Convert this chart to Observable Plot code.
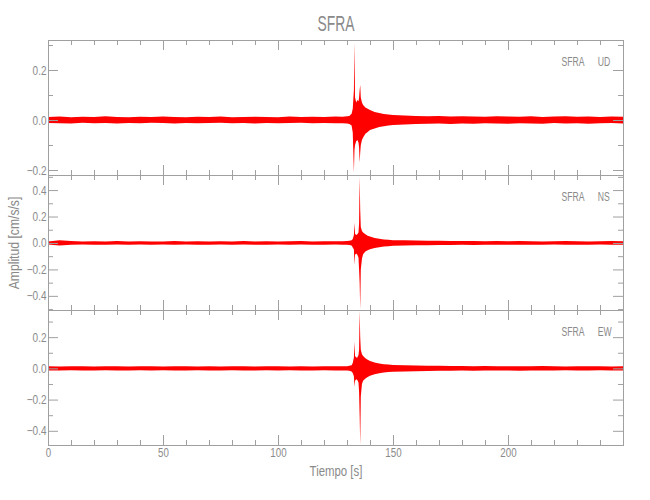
<!DOCTYPE html>
<html>
<head>
<meta charset="utf-8">
<script src="https://cdn.jsdelivr.net/npm/d3@7"></script>
<script src="https://cdn.jsdelivr.net/npm/@observablehq/plot@0.6"></script>
<style>
  html, body { margin: 0; padding: 0; background: #fff; }
  #chart { position: relative; width: 650px; height: 500px; overflow: hidden; }
  #chart svg { position: absolute; left: 0; overflow: visible; }
</style>
</head>
<body>
<div id="chart"></div>
<script>
// ---- data ----
const station = "SFRA";
const components = ["UD", "NS", "EW"];
const title = "SFRA";
const yLabel = "Amplitud [cm/s/s]";
const xLabel = "Tiempo [s]";

// time (s) of each envelope sample
const time = [
  0,5,10,15,20,25,30,35,40,45,50,55,60,65,70,75,80,85,90,95,100,105,110,115,120,125,
  128,130,131,132,132.5,133,133.25,133.5,134,134.5,135,135.25,135.5,135.75,136,136.5,137,138,139,140,142,144,146,148,150,
  155,160,165,170,175,180,185,190,195,200,205,210,215,220,225,230,235,240,245,250
];

// upper / lower envelope of each trace (cm/s/s)
const udHi = [
  0.012,0.014,0.011,0.013,0.012,0.015,0.012,0.011,0.013,0.012,0.014,0.012,0.011,0.013,0.012,0.014,0.011,0.012,0.013,0.012,0.011,0.014,0.012,0.013,0.012,0.014,
  0.013,0.015,0.016,0.025,0.045,0.12,0.31,0.09,0.07,0.08,0.075,0.09,0.12,0.14,0.09,0.07,0.06,0.05,0.045,0.04,0.032,0.028,0.024,0.022,0.02,
  0.018,0.016,0.015,0.016,0.014,0.015,0.014,0.013,0.015,0.014,0.013,0.015,0.012,0.014,0.015,0.013,0.014,0.012,0.014,0.013
];
const udLo = [
  -0.012,-0.013,-0.014,-0.011,-0.013,-0.012,-0.014,-0.012,-0.013,-0.011,-0.012,-0.014,-0.012,-0.013,-0.012,-0.011,-0.013,-0.012,-0.014,-0.012,-0.013,-0.012,-0.011,-0.013,-0.012,-0.013,
  -0.013,-0.014,-0.016,-0.022,-0.05,-0.21,-0.12,-0.1,-0.085,-0.08,-0.09,-0.11,-0.17,-0.13,-0.1,-0.08,-0.07,-0.055,-0.048,-0.04,-0.034,-0.028,-0.025,-0.022,-0.02,
  -0.018,-0.016,-0.015,-0.014,-0.016,-0.014,-0.015,-0.013,-0.014,-0.015,-0.013,-0.014,-0.015,-0.012,-0.014,-0.013,-0.015,-0.013,-0.012,-0.014
];
const nsHi = [
  0.012,0.02,0.014,0.012,0.013,0.012,0.014,0.012,0.013,0.012,0.012,0.014,0.012,0.013,0.012,0.013,0.012,0.014,0.012,0.013,0.012,0.013,0.014,0.012,0.013,0.013,
  0.013,0.014,0.016,0.02,0.03,0.06,0.154,0.07,0.06,0.065,0.08,0.15,0.5,0.25,0.12,0.09,0.08,0.065,0.055,0.048,0.038,0.032,0.027,0.024,0.021,
  0.02,0.018,0.017,0.016,0.015,0.014,0.015,0.013,0.014,0.013,0.014,0.013,0.012,0.013,0.014,0.013,0.012,0.013,0.014,0.013
];
const nsLo = [
  -0.012,-0.02,-0.013,-0.012,-0.013,-0.014,-0.012,-0.013,-0.012,-0.014,-0.012,-0.013,-0.012,-0.013,-0.014,-0.012,-0.013,-0.012,-0.013,-0.014,-0.012,-0.013,-0.012,-0.014,-0.013,-0.012,
  -0.013,-0.014,-0.016,-0.02,-0.035,-0.05,-0.164,-0.09,-0.08,-0.09,-0.11,-0.2,-0.3,-0.5,-0.2,-0.12,-0.085,-0.065,-0.055,-0.048,-0.038,-0.032,-0.027,-0.024,-0.021,
  -0.02,-0.018,-0.017,-0.016,-0.015,-0.014,-0.015,-0.013,-0.014,-0.013,-0.014,-0.013,-0.014,-0.012,-0.013,-0.014,-0.013,-0.012,-0.013,-0.014
];
const ewHi = [
  0.013,0.012,0.014,0.013,0.012,0.014,0.013,0.012,0.013,0.014,0.012,0.013,0.014,0.012,0.013,0.012,0.014,0.013,0.012,0.013,0.014,0.012,0.013,0.012,0.014,0.013,
  0.013,0.014,0.016,0.02,0.035,0.07,0.17,0.08,0.07,0.07,0.085,0.12,0.37,0.2,0.12,0.09,0.08,0.065,0.055,0.048,0.038,0.032,0.027,0.024,0.021,
  0.02,0.018,0.017,0.016,0.015,0.015,0.014,0.015,0.013,0.014,0.013,0.014,0.015,0.013,0.012,0.014,0.013,0.014,0.012,0.013
];
const ewLo = [
  -0.013,-0.014,-0.012,-0.013,-0.014,-0.012,-0.013,-0.014,-0.012,-0.013,-0.012,-0.014,-0.013,-0.012,-0.014,-0.013,-0.012,-0.013,-0.014,-0.012,-0.013,-0.012,-0.014,-0.013,-0.012,-0.013,
  -0.013,-0.014,-0.016,-0.02,-0.03,-0.05,-0.118,-0.08,-0.07,-0.075,-0.09,-0.15,-0.3,-0.49,-0.18,-0.1,-0.08,-0.065,-0.055,-0.048,-0.038,-0.032,-0.027,-0.024,-0.021,
  -0.02,-0.018,-0.017,-0.016,-0.015,-0.014,-0.015,-0.014,-0.013,-0.014,-0.015,-0.013,-0.014,-0.013,-0.012,-0.014,-0.013,-0.012,-0.014,-0.013
];

// axis ranges and ticks
const xDomain = [0, 250];
const xMajor = [0, 50, 100, 150, 200];
const xMinor = [10,20,30,40,60,70,80,90,110,120,130,140,160,170,180,190,210,220,230,240];
const udDomain = [-0.22, 0.32];
const nsDomain = [-0.507, 0.514];
const ewDomain = [-0.491, 0.374];
const udMajor = [-0.2, 0, 0.2];
const udMinor = [-0.1, 0.1, 0.3];
const nsMajor = [-0.4, -0.2, 0, 0.2, 0.4];
const nsMinor = [-0.5, -0.3, -0.1, 0.1, 0.3, 0.5];
const ewMajor = [-0.4, -0.2, 0, 0.2];
const ewMinor = [-0.3, -0.1, 0.1, 0.3];

// ---- drawing ----
const FONT = "'Liberation Sans', Arial, sans-serif";
const AXIS = "#a0a0a0";
const TEXT = "#8a8a8a";
const TRACE = "#ff0000";
const W = 650, ML = 48, MR = 27, PH = 135;
const PW = W - ML - MR;
const fmt = d3.format(".1f");

const panels = [
  {comp: components[0], hi: udHi, lo: udLo, domain: udDomain, major: udMajor, minor: udMinor, top: 0,   mt: 40, mb: 0},
  {comp: components[1], hi: nsHi, lo: nsLo, domain: nsDomain, major: nsMajor, minor: nsMinor, top: 175, mt: 0,  mb: 0},
  {comp: components[2], hi: ewHi, lo: ewLo, domain: ewDomain, major: ewMajor, minor: ewMinor, top: 310, mt: 0,  mb: 55}
];

const chart = document.getElementById("chart");

panels.forEach((p, idx) => {
  const rows = time.map((t, i) => ({t, hi: p.hi[i], lo: p.lo[i]}));
  const marks = [
    Plot.areaY(rows, {x: "t", y1: "lo", y2: "hi", fill: TRACE}),
    Plot.frame({stroke: AXIS}),
    // y ticks (inward, left and right)
    Plot.tickY(p.major, {y: d => d, stroke: AXIS, insetRight: PW - 10}),
    Plot.tickY(p.minor, {y: d => d, stroke: AXIS, insetRight: PW - 5}),
    Plot.tickY(p.major, {y: d => d, stroke: AXIS, insetLeft: PW - 10}),
    Plot.tickY(p.minor, {y: d => d, stroke: AXIS, insetLeft: PW - 5}),
    // x ticks (inward, bottom and top)
    Plot.tickX(xMajor, {x: d => d, stroke: AXIS, insetTop: PH - 10}),
    Plot.tickX(xMinor, {x: d => d, stroke: AXIS, insetTop: PH - 5}),
    Plot.tickX(xMajor, {x: d => d, stroke: AXIS, insetBottom: PH - 10}),
    Plot.tickX(xMinor, {x: d => d, stroke: AXIS, insetBottom: PH - 5}),
    // y tick labels
    Plot.text(p.major, {y: d => d, text: d => fmt(d), frameAnchor: "left", textAnchor: "end", dx: -2, fill: TEXT, fontSize: 12.5}),
    // station / component label
    Plot.text([station], {text: d => d, frameAnchor: "top-right", textAnchor: "start", lineAnchor: "top", dx: -62, dy: 16, fill: TEXT, fontSize: 13.7}),
    Plot.text([p.comp], {text: d => d, frameAnchor: "top-right", textAnchor: "start", lineAnchor: "top", dx: -25.7, dy: 16, fill: TEXT, fontSize: 13.7})
  ];
  if (idx === 0) {
    marks.push(Plot.text([title], {text: d => d, frameAnchor: "top", textAnchor: "middle", lineAnchor: "bottom", dy: -10, fill: TEXT, fontSize: 22}));
  }
  if (idx === 1) {
    marks.push(Plot.text([yLabel], {text: d => d, frameAnchor: "left", textAnchor: "middle", rotate: -90, dx: -34, fill: TEXT, fontSize: 14}));
  }
  if (idx === 2) {
    marks.push(Plot.text(xMajor, {x: d => d, text: d => String(d), frameAnchor: "bottom", lineAnchor: "top", dy: 3, fill: TEXT, fontSize: 12.5}));
    marks.push(Plot.text([xLabel], {text: d => d, frameAnchor: "bottom", textAnchor: "middle", lineAnchor: "top", dy: 21, fill: TEXT, fontSize: 14}));
  }
  const svg = Plot.plot({
    width: W,
    height: p.mt + PH + p.mb,
    marginLeft: ML, marginRight: MR, marginTop: p.mt, marginBottom: p.mb,
    x: {domain: xDomain, axis: null},
    y: {domain: p.domain, axis: null},
    style: {background: "transparent", fontFamily: FONT, overflow: "visible"},
    marks
  });
  svg.style.top = p.top + "px";
  chart.appendChild(svg);
});

// narrow the glyphs to mimic the tall, condensed vector font of the original
d3.select(chart).selectAll("text").each(function () {
  const s = this.textContent;
  let k = 0.8;
  if (s === station || s === title || components.includes(s)) k = 0.63;
  else if (s === yLabel) k = 0.87;
  else if (s === xLabel) k = 0.815;
  else if (/^\d+$/.test(s)) k = 0.78;
  const len = this.getComputedTextLength();
  this.setAttribute("textLength", (len * k).toFixed(1));
  this.setAttribute("lengthAdjust", "spacingAndGlyphs");
});
</script>
</body>
</html>
